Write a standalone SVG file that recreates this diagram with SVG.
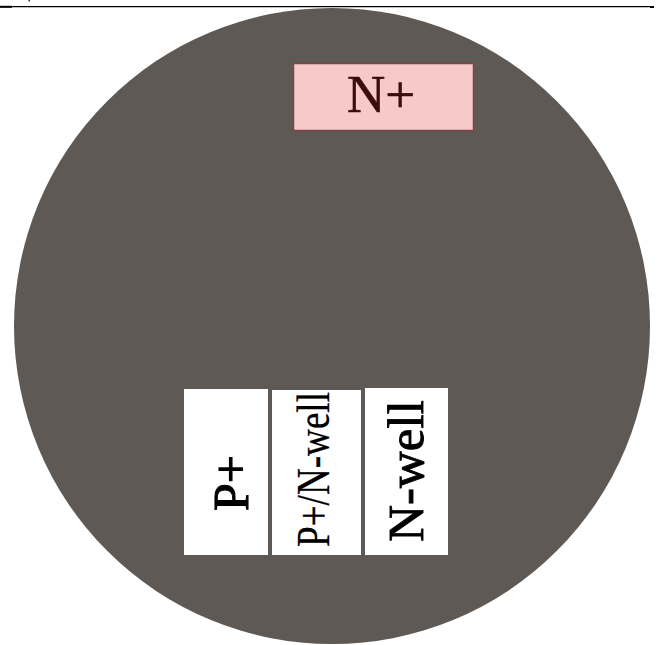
<svg xmlns="http://www.w3.org/2000/svg" width="665" height="645" viewBox="0 0 665 645">
  <style>
    .lbl { font-family: "Liberation Serif", "Times New Roman", serif; fill: #000; stroke: #000; stroke-width: 0.7; }
    .region { fill: #ffffff; }
  </style>
  <defs>
    <clipPath id="frame">
      <rect x="0" y="8" width="650" height="637"/>
    </clipPath>
  </defs>
  <rect x="0" y="0" width="665" height="645" fill="#ffffff"/>

  <!-- header rule -->
  <g id="header">
    <line x1="0" y1="6.7" x2="653" y2="6.7" stroke="#000" stroke-width="1.3"/>
    <rect x="0" y="5.8" width="12" height="2" fill="#000"/>
    <rect x="650" y="6" width="4" height="2" fill="#000"/>
    <rect x="28.5" y="0" width="1.5" height="1.5" fill="#333"/>
  </g>

  <!-- wafer -->
  <g id="wafer" clip-path="url(#frame)">
    <circle cx="332" cy="326" r="318" fill="#5e5955"/>
  </g>

  <g id="n-plus">
    <rect x="293.5" y="63.5" width="180" height="67" fill="#f7c9c9" stroke="#7e4446" stroke-width="1.5"/>
    <text class="lbl" x="381" y="112" font-size="53" text-anchor="middle" style="fill:#3d0c0e;stroke:#3d0c0e;stroke-width:0.6">N+</text>
  </g>

  <g id="p-plus">
    <rect class="region" x="184" y="389" width="84" height="166"/>
    <text class="lbl" transform="translate(248,483) rotate(-90)" font-size="50" text-anchor="middle" style="stroke-width:1.1">P+</text>
  </g>

  <g id="p-plus-n-well">
    <rect class="region" x="272" y="390" width="89" height="165"/>
    <text class="lbl" transform="translate(329,547) rotate(-90)" font-size="46" textLength="155" lengthAdjust="spacingAndGlyphs" style="stroke-width:0.3">P+/N-well</text>
  </g>

  <g id="n-well">
    <rect class="region" x="365" y="388" width="83" height="167"/>
    <text class="lbl" transform="translate(423,471) rotate(-90)" font-size="51" text-anchor="middle" style="stroke-width:0.9">N-well</text>
  </g>
</svg>
